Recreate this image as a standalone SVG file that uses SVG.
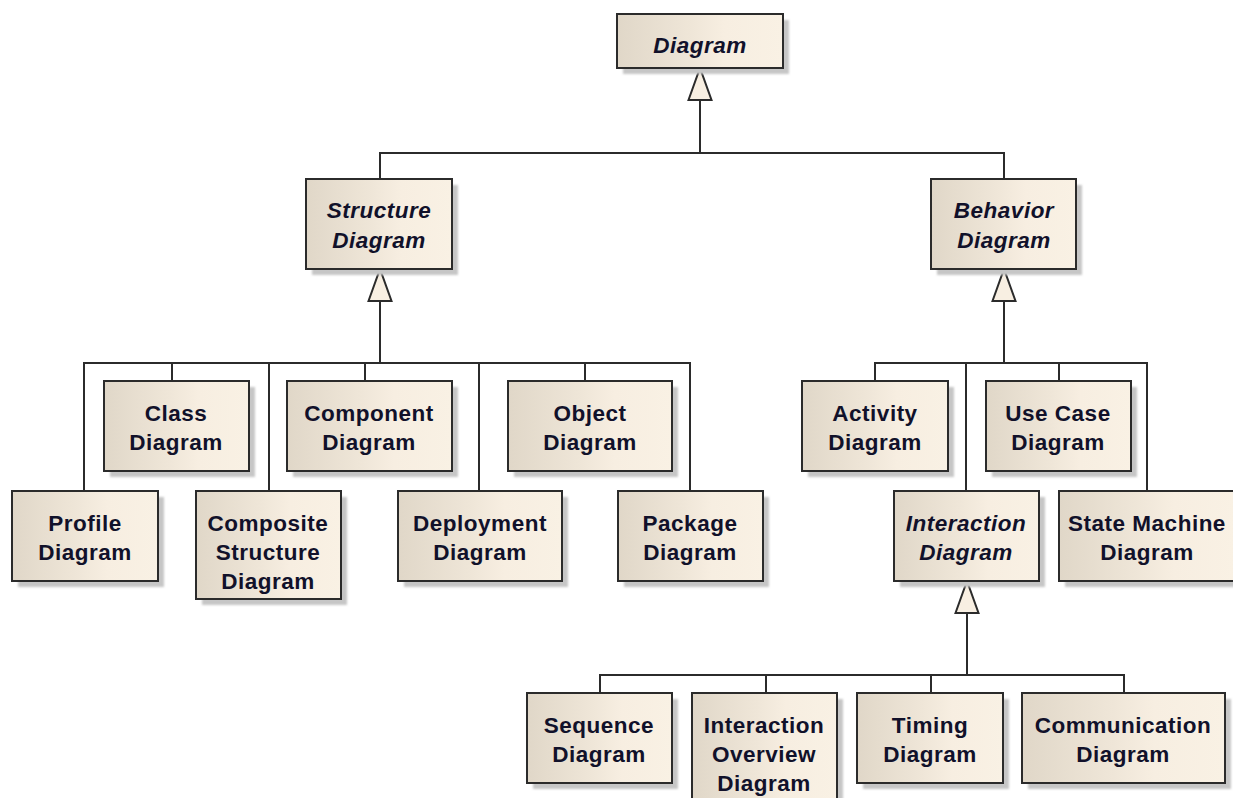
<svg xmlns="http://www.w3.org/2000/svg" width="1233" height="798" viewBox="0 0 1233 798">
  <style>
    .box { fill: url(#boxFill); stroke: #2b2b2b; stroke-width: 2; }
    .shadow { fill: #c6c6c6; filter: url(#soft); }
    .label { font-family: "Liberation Sans", Arial, sans-serif; font-weight: bold; font-size: 22.5px; letter-spacing: 0.5px; fill: #11112a; text-anchor: middle; }
    .abstract { font-style: italic; }
    .wire { fill: none; stroke: #2b2b2b; stroke-width: 2; }
    .gen { marker-end: url(#hollowTriangle); }
  </style>
  <defs>
    <linearGradient id="boxFill" x1="0" y1="0" x2="1" y2="0">
      <stop offset="0" stop-color="#e0d7c8"/>
      <stop offset="0.45" stop-color="#efe6d8"/>
      <stop offset="0.65" stop-color="#f7eee1"/>
      <stop offset="1" stop-color="#f9f1e4"/>
    </linearGradient>
    <filter id="soft" x="-5%" y="-5%" width="110%" height="110%">
      <feGaussianBlur stdDeviation="0.8"/>
    </filter>
    <!-- UML generalization head: hollow triangle pointing at the parent -->
    <marker id="hollowTriangle" markerUnits="userSpaceOnUse" viewBox="-2 -2 36 27" refX="32" refY="11.5" markerWidth="36" markerHeight="27" orient="auto" overflow="visible">
      <path d="M0,0 L32,11.5 L0,23 Z" fill="#f8efe2" stroke="#2b2b2b" stroke-width="2" stroke-linejoin="miter"/>
    </marker>
  </defs>

  <rect width="1233" height="798" fill="#ffffff"/>

  <g id="connectors">
    <!-- Diagram <- Structure / Behavior -->
    <path class="wire" d="M380,179 V153 H1004 V179"/>
    <path class="wire gen" d="M700,153 V68"/>
    <!-- Structure Diagram children -->
    <path class="wire" d="M84,491 V363 H690 V491"/>
    <path class="wire" d="M172,363 V381 M269,363 V491 M365,363 V381 M479,363 V491 M585,363 V381"/>
    <path class="wire gen" d="M380,363 V269"/>
    <!-- Behavior Diagram children -->
    <path class="wire" d="M875,381 V363 H1147 V491"/>
    <path class="wire" d="M966,363 V491 M1059,363 V381"/>
    <path class="wire gen" d="M1004,363 V269"/>
    <!-- Interaction Diagram children -->
    <path class="wire" d="M600,693 V675 H1124 V693"/>
    <path class="wire" d="M766,675 V693 M931,675 V693"/>
    <path class="wire gen" d="M967,675 V581"/>
  </g>

  <g id="diagram">
    <rect class="shadow" x="623" y="20" width="166" height="54"/>
    <rect class="box" x="617" y="14" width="166" height="54"/>
    <text class="label abstract" x="700" y="53">Diagram</text>
  </g>

  <g id="structure-diagram">
    <rect class="shadow" x="312" y="185" width="146" height="90"/>
    <rect class="box" x="306" y="179" width="146" height="90"/>
    <text class="label abstract" x="379" y="218">Structure</text>
    <text class="label abstract" x="379" y="248">Diagram</text>
  </g>

  <g id="behavior-diagram">
    <rect class="shadow" x="937" y="185" width="145" height="90"/>
    <rect class="box" x="931" y="179" width="145" height="90"/>
    <text class="label abstract" x="1004" y="218">Behavior</text>
    <text class="label abstract" x="1004" y="248">Diagram</text>
  </g>

  <g id="class-diagram">
    <rect class="shadow" x="110" y="387" width="145" height="90"/>
    <rect class="box" x="104" y="381" width="145" height="90"/>
    <text class="label" x="176" y="421">Class</text>
    <text class="label" x="176" y="450">Diagram</text>
  </g>

  <g id="component-diagram">
    <rect class="shadow" x="293" y="387" width="165" height="90"/>
    <rect class="box" x="287" y="381" width="165" height="90"/>
    <text class="label" x="369" y="421">Component</text>
    <text class="label" x="369" y="450">Diagram</text>
  </g>

  <g id="object-diagram">
    <rect class="shadow" x="514" y="387" width="164" height="90"/>
    <rect class="box" x="508" y="381" width="164" height="90"/>
    <text class="label" x="590" y="421">Object</text>
    <text class="label" x="590" y="450">Diagram</text>
  </g>

  <g id="profile-diagram">
    <rect class="shadow" x="18" y="497" width="146" height="90"/>
    <rect class="box" x="12" y="491" width="146" height="90"/>
    <text class="label" x="85" y="531">Profile</text>
    <text class="label" x="85" y="560">Diagram</text>
  </g>

  <g id="composite-structure-diagram">
    <rect class="shadow" x="202" y="497" width="145" height="108"/>
    <rect class="box" x="196" y="491" width="145" height="108"/>
    <text class="label" x="268" y="531">Composite</text>
    <text class="label" x="268" y="560">Structure</text>
    <text class="label" x="268" y="589">Diagram</text>
  </g>

  <g id="deployment-diagram">
    <rect class="shadow" x="404" y="497" width="164" height="90"/>
    <rect class="box" x="398" y="491" width="164" height="90"/>
    <text class="label" x="480" y="531">Deployment</text>
    <text class="label" x="480" y="560">Diagram</text>
  </g>

  <g id="package-diagram">
    <rect class="shadow" x="624" y="497" width="145" height="90"/>
    <rect class="box" x="618" y="491" width="145" height="90"/>
    <text class="label" x="690" y="531">Package</text>
    <text class="label" x="690" y="560">Diagram</text>
  </g>

  <g id="activity-diagram">
    <rect class="shadow" x="808" y="387" width="146" height="90"/>
    <rect class="box" x="802" y="381" width="146" height="90"/>
    <text class="label" x="875" y="421">Activity</text>
    <text class="label" x="875" y="450">Diagram</text>
  </g>

  <g id="use-case-diagram">
    <rect class="shadow" x="992" y="387" width="145" height="90"/>
    <rect class="box" x="986" y="381" width="145" height="90"/>
    <text class="label" x="1058" y="421">Use Case</text>
    <text class="label" x="1058" y="450">Diagram</text>
  </g>

  <g id="interaction-diagram">
    <rect class="shadow" x="900" y="497" width="145" height="90"/>
    <rect class="box" x="894" y="491" width="145" height="90"/>
    <text class="label abstract" x="966" y="531">Interaction</text>
    <text class="label abstract" x="966" y="560">Diagram</text>
  </g>

  <g id="state-machine-diagram">
    <rect class="shadow" x="1065" y="497" width="176" height="90"/>
    <rect class="box" x="1059" y="491" width="176" height="90"/>
    <text class="label" x="1147" y="531">State Machine</text>
    <text class="label" x="1147" y="560">Diagram</text>
  </g>

  <g id="sequence-diagram">
    <rect class="shadow" x="533" y="699" width="145" height="90"/>
    <rect class="box" x="527" y="693" width="145" height="90"/>
    <text class="label" x="599" y="733">Sequence</text>
    <text class="label" x="599" y="762">Diagram</text>
  </g>

  <g id="interaction-overview-diagram">
    <rect class="shadow" x="698" y="699" width="145" height="112"/>
    <rect class="box" x="692" y="693" width="145" height="112"/>
    <text class="label" x="764" y="733">Interaction</text>
    <text class="label" x="764" y="762">Overview</text>
    <text class="label" x="764" y="791">Diagram</text>
  </g>

  <g id="timing-diagram">
    <rect class="shadow" x="863" y="699" width="146" height="90"/>
    <rect class="box" x="857" y="693" width="146" height="90"/>
    <text class="label" x="930" y="733">Timing</text>
    <text class="label" x="930" y="762">Diagram</text>
  </g>

  <g id="communication-diagram">
    <rect class="shadow" x="1028" y="699" width="203" height="90"/>
    <rect class="box" x="1022" y="693" width="203" height="90"/>
    <text class="label" x="1123" y="733">Communication</text>
    <text class="label" x="1123" y="762">Diagram</text>
  </g>
</svg>
